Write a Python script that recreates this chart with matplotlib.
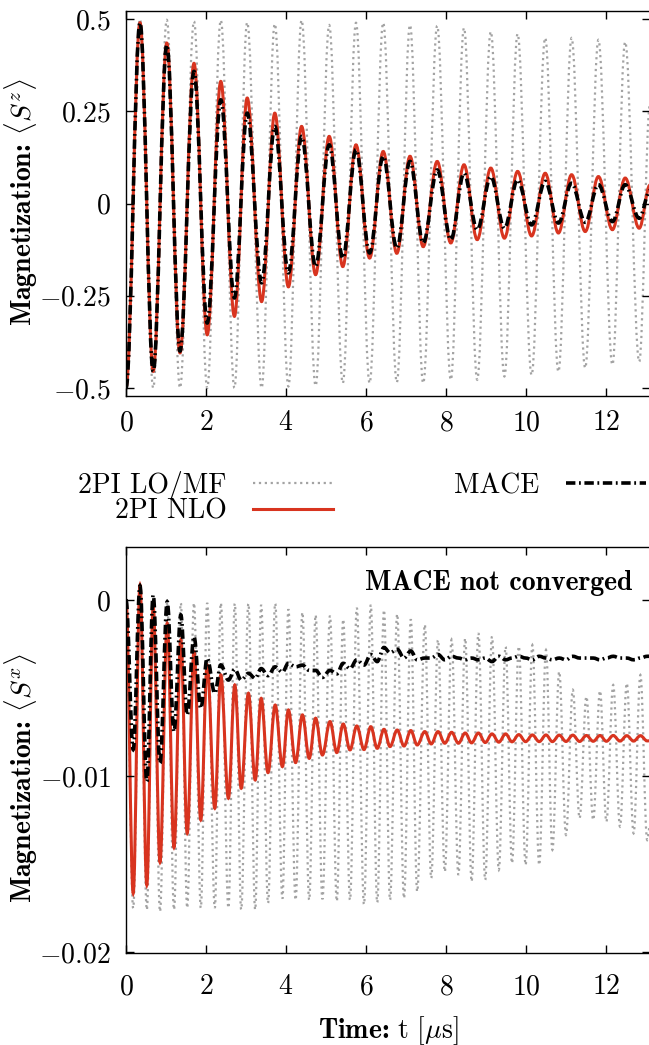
import matplotlib
matplotlib.use("Agg")
import matplotlib.pyplot as plt
from matplotlib.path import Path
from matplotlib.patches import PathPatch
from matplotlib.lines import Line2D

# extrema of <S^z> (times in us)
t_sz = [0, 0.35, 0.68, 1.02, 1.35, 1.70, 2.03, 2.37, 2.71, 3.03,
        3.39, 3.72, 4.06, 4.39, 4.74, 5.08, 5.42, 5.75, 6.09, 6.43,
        6.77, 7.10, 7.43, 7.78, 8.12, 8.45, 8.78, 9.12, 9.46, 9.79,
        10.14, 10.48, 10.81, 11.14, 11.48, 11.81, 12.16, 12.48, 12.83, 13.1]
sz_lomf = [-0.5, 0.50, -0.50, 0.498, -0.50, 0.494, -0.50, 0.497, -0.50, 0.491,
           -0.50, 0.487, -0.496, 0.497, -0.494, 0.484, -0.487, 0.49, -0.487, 0.49,
           -0.485, 0.484, -0.487, 0.482, -0.478, 0.476, -0.478, 0.466, -0.469, 0.46,
           -0.465, 0.449, -0.456, 0.449, -0.446, 0.444, -0.437, 0.438, -0.429, 0.27]
sz_nlo = [-0.5, 0.49, -0.455, 0.435, -0.405, 0.38, -0.356, 0.331, -0.306, 0.286,
          -0.266, 0.245, -0.226, 0.209, -0.193, 0.182, -0.171, 0.159, -0.148, 0.141,
          -0.135, 0.128, -0.117, 0.114, -0.107, 0.105, -0.098, 0.096, -0.094, 0.087,
          -0.088, 0.082, -0.080, 0.078, -0.076, 0.073, -0.071, 0.069, -0.067, 0.05]
sz_mace = [-0.5, 0.49, -0.455, 0.43, -0.40, 0.358, -0.324, 0.281, -0.256, 0.245,
           -0.215, 0.209, -0.188, 0.182, -0.171, 0.159, -0.148, 0.146, -0.134, 0.128,
           -0.121, 0.114, -0.107, 0.091, -0.098, 0.082, -0.071, 0.073, -0.067, 0.064,
           -0.058, 0.06, -0.053, 0.055, -0.051, 0.051, -0.049, 0.051, -0.04, 0.035]

# extrema of <S^x>
t_sx = [0, 0.18, 0.35, 0.52, 0.68, 0.85, 1.03, 1.20, 1.37, 1.53,
        1.70, 1.87, 2.03, 2.22, 2.37, 2.56, 2.72, 2.88, 3.06, 3.23,
        3.38, 3.55, 3.73, 3.91, 4.06, 4.24, 4.41, 4.58, 4.74, 4.91,
        5.10, 5.27, 5.43, 5.60, 5.77, 5.95, 6.12, 6.28, 6.45, 6.60,
        6.78, 6.95, 7.12, 7.28, 7.47, 7.63, 7.80, 7.97, 8.14, 8.31,
        8.48, 8.64, 8.81, 8.98, 9.15, 9.32, 9.49, 9.65, 9.82, 9.99,
        10.16, 10.33, 10.50, 10.66, 10.83, 11.00, 11.17, 11.34, 11.51, 11.68,
        11.85, 12.01, 12.18, 12.35, 12.52, 12.69, 12.86, 13.03, 13.1]
sx_lomf = [0.0, -0.01752, -0.0001, -0.01761, -0.0001, -0.01771, -0.0001, -0.0176, -0.00017, -0.0175,
           -0.00017, -0.0175, -0.00017, -0.0175, -0.00017, -0.0175, -0.0002, -0.0176, -0.0002, -0.0176,
           -0.00028, -0.01723, -0.00019, -0.01697, -0.00053, -0.01705, -0.0007, -0.01705, -0.00085, -0.0170,
           -0.0009, -0.01712, -0.0011, -0.01705, -0.00045, -0.0173, -0.00028, -0.0172, -0.00057, -0.01705,
           -0.0008, -0.01695, -0.0011, -0.01657, -0.0014, -0.01581, -0.00227, -0.01544, -0.00225, -0.01562,
           -0.00218, -0.016, -0.00189, -0.01591, -0.00208, -0.01534, -0.00265, -0.01496, -0.00263, -0.01506,
           -0.00256, -0.01506, -0.00284, -0.0142, -0.00407, -0.01335, -0.0051, -0.0124, -0.00549, -0.0125,
           -0.00516, -0.0126, -0.00483, -0.01288, -0.00473, -0.01326, -0.00426, -0.01364, -0.0128]
sx_nlo = [0.0, -0.01667, 0.00085, -0.0162, -0.00038, -0.0149, -0.00133, -0.01407, -0.00227, -0.01326,
          -0.00294, -0.0125, -0.00369, -0.01184, -0.00426, -0.01127, -0.00483, -0.0107, -0.0053, -0.01023,
          -0.00559, -0.00981, -0.00597, -0.00947, -0.00625, -0.00924, -0.00653, -0.0090, -0.00672, -0.00881,
          -0.00691, -0.00867, -0.00705, -0.00852, -0.00716, -0.0085, -0.0072, -0.00843, -0.00735, -0.00833,
          -0.00739, -0.0083, -0.00742, -0.00824, -0.00748, -0.00818, -0.00748, -0.00814, -0.00752, -0.00814,
          -0.00756, -0.00812, -0.00756, -0.0081, -0.00761, -0.00808, -0.00761, -0.00806, -0.00765, -0.00805,
          -0.00767, -0.00805, -0.00767, -0.00805, -0.00768, -0.00804, -0.00768, -0.00804, -0.0077, -0.00803,
          -0.0077, -0.00803, -0.0077, -0.00802, -0.00771, -0.00802, -0.00771, -0.00801, -0.008]
sx_mace = [0.0, -0.0085, 0.0008, -0.01032, 0.00028, -0.00928, -0.0001, -0.00748, -0.00085, -0.00653,
           -0.00208, -0.00616, -0.00331, -0.0053, -0.00369, -0.00455, -0.00394, -0.00455, -0.00417, -0.00445,
           -0.0039, -0.0043, -0.0038, -0.0041, -0.0036, -0.0038, -0.0037, -0.0040, -0.0040, -0.0044,
           -0.0040, -0.0042, -0.0036, -0.0039, -0.0034, -0.0037, -0.0031, -0.0035, -0.0027, -0.0030,
           -0.0028, -0.0033, -0.0029, -0.0034, -0.0033, -0.0033, -0.0031, -0.0034, -0.0032, -0.0033,
           -0.0034, -0.0033, -0.0034, -0.0033, -0.0035, -0.0032, -0.0034, -0.0033, -0.0032, -0.0033,
           -0.0034, -0.0032, -0.0033, -0.0034, -0.0033, -0.0034, -0.0032, -0.0033, -0.0033, -0.0033,
           -0.0034, -0.0033, -0.0032, -0.0033, -0.0033, -0.0034, -0.0033, -0.0032, -0.0032]

x_ticks = [0, 2, 4, 6, 8, 10, 12]
x_labels = ["$0$", "$2$", "$4$", "$6$", "$8$", "$10$", "$12$"]
sz_ticks = [0.5, 0.25, 0, -0.25, -0.5]
sz_labels = ["$0.5$", "$0.25$", "$0$", "$-0.25$", "$-0.5$"]
sx_ticks = [0, -0.01, -0.02]
sx_labels = ["$0$", "$-0.01$", "$-0.02$"]

GRAY = "#a3a3a3"
RED = "#d8341f"
FS = 20

plt.rcParams["mathtext.fontset"] = "cm"
plt.rcParams["font.family"] = "cmr10"

sty_lomf = dict(color=GRAY, lw=1.6, ls=":")
sty_nlo = dict(color=RED, lw=2.2, ls="-")
sty_mace = dict(color="black", lw=2.6, ls=(0, (2.6, 1.0, 0.5, 1.0)))


def wave(ax, t, v, **kw):
    # smooth curve through the extrema (horizontal tangent at each one)
    k = 0.3634
    verts = [(t[0], v[0])]
    codes = [Path.MOVETO]
    for i in range(1, len(t)):
        d = (t[i] - t[i - 1]) * k
        verts += [(t[i - 1] + d, v[i - 1]), (t[i] - d, v[i]), (t[i], v[i])]
        codes += [Path.CURVE4] * 3
    ax.add_patch(PathPatch(Path(verts, codes), fill=False, **kw))


W, H = 649, 1045
fig = plt.figure(figsize=(W / 100, H / 100), dpi=100)
ax1 = fig.add_axes([126 / W, 1 - 396 / H, 524 / W, 385 / H])
ax2 = fig.add_axes([126 / W, 1 - 953 / H, 524 / W, 406 / H])

wave(ax1, t_sz, sz_lomf, **sty_lomf)
wave(ax1, t_sz, sz_nlo, **sty_nlo)
wave(ax1, t_sz, sz_mace, **sty_mace)
wave(ax2, t_sx, sx_lomf, **sty_lomf)
wave(ax2, t_sx, sx_nlo, **sty_nlo)
wave(ax2, t_sx, sx_mace, **sty_mace)

for ax, ticks, labels in [(ax1, sz_ticks, sz_labels), (ax2, sx_ticks, sx_labels)]:
    ax.set_xlim(0, 13.1)
    ax.set_xticks(x_ticks)
    ax.set_xticklabels(x_labels)
    ax.set_yticks(ticks)
    ax.set_yticklabels(labels)
    ax.tick_params(direction="in", top=True, right=True, length=6, width=1,
                   labelsize=FS)
    ax.tick_params(axis="y", pad=11)
    for s in ax.spines.values():
        s.set_linewidth(1.0)
ax1.tick_params(axis="x", pad=10)
ax2.tick_params(axis="x", pad=15)

ax1.set_ylim(-0.522, 0.522)
ax2.set_ylim(-0.02006, 0.00301)

ax1.set_ylabel(r"Magnetization: $\langle S^z\rangle$", fontfamily="cmb10", fontsize=FS)
ax1.yaxis.set_label_coords(-0.165, 0.505)
ax2.set_ylabel(r"Magnetization: $\langle S^x\rangle$", fontfamily="cmb10", fontsize=FS)
ax2.yaxis.set_label_coords(-0.165, 0.43)
ax2.set_xlabel(r"Time: $\mathrm{t}\ [\mu\mathrm{s}]$", fontfamily="cmb10", fontsize=FS)
ax2.xaxis.set_label_coords(0.5, -0.15)

ax2.text(0.9656, 0.894, "MACE not converged", transform=ax2.transAxes,
         ha="right", va="baseline", fontfamily="cmb10", fontsize=FS)

handles = [Line2D([], [], **sty_lomf), Line2D([], [], **sty_nlo),
           Line2D([], [], **sty_mace)]
fig.legend(handles, ["2PI LO/MF", "2PI NLO", "MACE"], ncol=2, markerfirst=False,
           frameon=False, loc="upper left", bbox_to_anchor=(78 / W, 1 - 471 / H),
           prop={"family": "cmr10", "size": FS}, handlelength=2.9,
           handletextpad=0.95, columnspacing=4.35, labelspacing=-0.05,
           borderpad=0, borderaxespad=0)

fig.savefig("out.png", dpi=100)
